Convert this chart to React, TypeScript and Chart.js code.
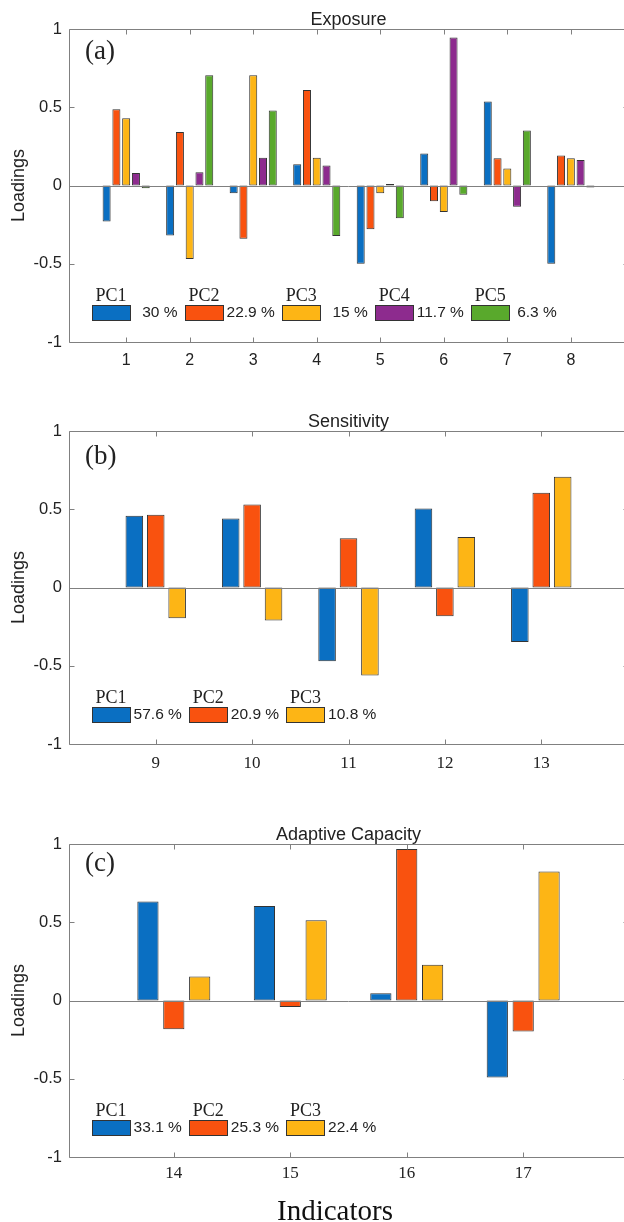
import React, { useEffect, useRef } from 'react';
import { Chart, registerables } from 'chart.js';

Chart.register(...registerables);

// ---------------- data ----------------
const seriesNames = ['PC1', 'PC2', 'PC3', 'PC4', 'PC5'];

const exposureIndicators = [1, 2, 3, 4, 5, 6, 7, 8];
const exposurePC1 = [-0.23, -0.32, -0.05, 0.135, -0.5, 0.205, 0.537, -0.5];
const exposurePC2 = [0.488, 0.342, -0.34, 0.611, -0.28, -0.1, 0.174, 0.191];
const exposurePC3 = [0.43, -0.47, 0.705, 0.178, -0.05, -0.17, 0.108, 0.174];
const exposurePC4 = [0.08, 0.084, 0.178, 0.127, 0.01, 0.946, -0.135, 0.163];
const exposurePC5 = [-0.018, 0.705, 0.479, -0.323, -0.21, -0.059, 0.351, -0.012];
const exposureVariance = [30, 22.9, 15, 11.7, 6.3];

const sensitivityIndicators = [9, 10, 11, 12, 13];
const sensitivityPC1 = [0.458, 0.441, -0.471, 0.505, -0.348];
const sensitivityPC2 = [0.465, 0.531, 0.315, -0.184, 0.605];
const sensitivityPC3 = [-0.196, -0.211, -0.563, 0.322, 0.708];
const sensitivityVariance = [57.6, 20.9, 10.8];

const adaptiveIndicators = [14, 15, 16, 17];
const adaptivePC1 = [0.633, 0.604, 0.047, -0.492];
const adaptivePC2 = [-0.183, -0.042, 0.968, -0.198];
const adaptivePC3 = [0.153, 0.512, 0.228, 0.825];
const adaptiveVariance = [33.1, 25.3, 22.4];

const yTickValues = [-1, -0.5, 0, 0.5, 1];

// ---------------- style ----------------
const COLORS = ['#0a6fc2', '#f9520f', '#fdb515', '#8d2b8e', '#59a92c'];
const SANS = "'Liberation Sans', Arial, sans-serif";
const SERIF = "'Liberation Serif', 'Times New Roman', serif";
const AXIS = '#808080';
const TEXT = '#222222';
const CANVAS_W = 640;

type PanelCfg = {
  top: number;
  height: number;
  padTop: number;
  xHeight: number;
  cats: number[];
  series: number[][];
  variance: number[];
  title: string;
  letter: string;
  letterBaseline: number;
  xFont: string;
  xFontSize: number;
  xPad: number;
  indicators: boolean;
};

const panels: PanelCfg[] = [
  {
    top: 0, height: 400, padTop: 29, xHeight: 58,
    cats: exposureIndicators,
    series: [exposurePC1, exposurePC2, exposurePC3, exposurePC4, exposurePC5],
    variance: exposureVariance,
    title: 'Exposure', letter: '(a)', letterBaseline: 29.5,
    xFont: SANS, xFontSize: 16, xPad: 9, indicators: false,
  },
  {
    top: 400, height: 412, padTop: 31, xHeight: 68,
    cats: sensitivityIndicators,
    series: [sensitivityPC1, sensitivityPC2, sensitivityPC3],
    variance: sensitivityVariance,
    title: 'Sensitivity', letter: '(b)', letterBaseline: 32.7,
    xFont: SERIF, xFontSize: 17, xPad: 9, indicators: false,
  },
  {
    top: 812, height: 410, padTop: 32, xHeight: 65,
    cats: adaptiveIndicators,
    series: [adaptivePC1, adaptivePC2, adaptivePC3],
    variance: adaptiveVariance,
    title: 'Adaptive Capacity', letter: '(c)', letterBaseline: 27.4,
    xFont: SERIF, xFontSize: 17, xPad: 6, indicators: true,
  },
];

function fmt(v: number) {
  return String(Number(v.toFixed(3)));
}

function PanelChart({ cfg }: { cfg: PanelCfg }) {
  const ref = useRef<HTMLCanvasElement | null>(null);

  useEffect(() => {
    if (!ref.current) return;
    const n = cfg.series.length;
    const first = cfg.cats[0];
    const last = cfg.cats[cfg.cats.length - 1];

    const decor = {
      id: 'matlabDecor',
      afterDraw(chart: any) {
        const ctx = chart.ctx as CanvasRenderingContext2D;
        const area = chart.chartArea;
        const xs = chart.scales.x;
        const ys = chart.scales.y;
        ctx.save();

        // zero baseline
        const y0 = Math.round(ys.getPixelForValue(0)) + 0.5;
        ctx.strokeStyle = AXIS;
        ctx.lineWidth = 1;
        ctx.beginPath();
        ctx.moveTo(area.left, y0);
        ctx.lineTo(area.right, y0);
        ctx.stroke();

        // box
        const L = Math.round(area.left) + 0.5;
        const R = Math.round(area.right) + 0.5;
        const T = Math.round(area.top) + 0.5;
        const B = Math.round(area.bottom) + 0.5;
        ctx.strokeStyle = AXIS;
        ctx.beginPath();
        ctx.rect(L, T, R - L, B - T);
        ctx.stroke();

        // inward tick marks
        const tl = 5;
        ctx.beginPath();
        cfg.cats.forEach((c) => {
          const px = Math.round(xs.getPixelForValue(c)) + 0.5;
          ctx.moveTo(px, B);
          ctx.lineTo(px, B - tl);
          ctx.moveTo(px, T);
          ctx.lineTo(px, T + tl);
        });
        yTickValues.forEach((v) => {
          const py = Math.round(ys.getPixelForValue(v)) + 0.5;
          ctx.moveTo(L, py);
          ctx.lineTo(L + tl, py);
          ctx.moveTo(R, py);
          ctx.lineTo(R - tl, py);
        });
        ctx.stroke();

        // title
        ctx.fillStyle = TEXT;
        ctx.font = `18px ${SANS}`;
        ctx.textAlign = 'center';
        ctx.textBaseline = 'alphabetic';
        ctx.fillText(cfg.title, (area.left + area.right) / 2, area.top - 4);

        // panel letter
        ctx.font = `27px ${SERIF}`;
        ctx.textAlign = 'left';
        ctx.fillText(cfg.letter, area.left + 16, area.top + cfg.letterBaseline);

        // y title
        ctx.save();
        ctx.translate(19, (area.top + area.bottom) / 2);
        ctx.rotate(-Math.PI / 2);
        ctx.font = `18px ${SANS}`;
        ctx.textAlign = 'center';
        ctx.textBaseline = 'middle';
        ctx.fillText('Loadings', 0, 0);
        ctx.restore();

        // legend
        const swTop = area.top + 275.5;
        const swH = 16;
        const swW = 39;
        let x = area.left + 22.6;
        for (let i = 0; i < n; i++) {
          ctx.fillStyle = COLORS[i];
          ctx.fillRect(Math.round(x), Math.round(swTop), swW, swH);
          ctx.strokeStyle = '#333333';
          ctx.lineWidth = 1;
          ctx.strokeRect(Math.round(x) + 0.5, Math.round(swTop) + 0.5, swW - 1, swH - 1);
          ctx.fillStyle = TEXT;
          ctx.font = `18px ${SERIF}`;
          ctx.textAlign = 'center';
          ctx.textBaseline = 'alphabetic';
          ctx.fillText(seriesNames[i], x + swW / 2, swTop - 4);
          const label = String(cfg.variance[i]).padStart(4, ' ') + ' %';
          ctx.font = `15.5px ${SANS}`;
          ctx.textAlign = 'left';
          ctx.textBaseline = 'middle';
          const tx = x + swW + 3;
          ctx.fillText(label, tx, swTop + swH / 2 + 0.5);
          x = tx + ctx.measureText(label).width + 7;
        }

        if (cfg.indicators) {
          ctx.fillStyle = '#111111';
          ctx.font = `29px ${SERIF}`;
          ctx.textAlign = 'center';
          ctx.textBaseline = 'alphabetic';
          ctx.fillText('Indicators', 335, chart.height - 2);
        }
        ctx.restore();
      },
    };

    const chart = new Chart(ref.current, {
      type: 'bar',
      data: {
        datasets: cfg.series.map((vals, i) => ({
          label: seriesNames[i],
          data: cfg.cats.map((c, k) => ({ x: c, y: vals[k] })),
          backgroundColor: COLORS[i],
          borderColor: '#333333',
          borderWidth: 1,
          borderSkipped: false,
          categoryPercentage: n / (n + 1.5),
          barPercentage: 0.82,
        })),
      },
      options: {
        animation: false,
        responsive: false,
        maintainAspectRatio: false,
        devicePixelRatio: 1,
        layout: { padding: { top: cfg.padTop, right: CANVAS_W - 628, left: 0, bottom: 0 } },
        plugins: { legend: { display: false }, tooltip: { enabled: false }, title: { display: false } },
        scales: {
          x: {
            type: 'linear',
            min: first - 0.9,
            max: last + 0.9,
            offset: false,
            grid: { display: false, drawTicks: false },
            border: { display: false },
            ticks: {
              autoSkip: false,
              maxRotation: 0,
              padding: cfg.xPad,
              color: TEXT,
              font: { family: cfg.xFont, size: cfg.xFontSize },
              callback: (v: any) => fmt(Number(v)),
            },
            afterBuildTicks: (axis: any) => {
              axis.ticks = cfg.cats.map((c) => ({ value: c }));
            },
            afterFit: (axis: any) => {
              axis.height = cfg.xHeight;
            },
          },
          y: {
            type: 'linear',
            min: -1,
            max: 1,
            grid: { display: false, drawTicks: false },
            border: { display: false },
            ticks: {
              padding: 7,
              color: TEXT,
              font: { family: SANS, size: 16.5 },
              callback: (v: any) => fmt(Number(v)),
            },
            afterBuildTicks: (axis: any) => {
              axis.ticks = yTickValues.map((v) => ({ value: v }));
            },
            afterFit: (axis: any) => {
              axis.width = 69;
            },
          },
        },
      },
      plugins: [decor],
    } as any);

    return () => chart.destroy();
  }, [cfg]);

  return (
    <canvas
      ref={ref}
      width={CANVAS_W}
      height={cfg.height}
      style={{ position: 'absolute', left: 0, top: cfg.top, display: 'block' }}
    />
  );
}

export default function App() {
  return (
    <div
      style={{
        position: 'absolute',
        left: 0,
        top: 0,
        width: 624,
        height: 1222,
        overflow: 'hidden',
        background: '#ffffff',
      }}
    >
      {panels.map((p) => (
        <PanelChart key={p.letter} cfg={p} />
      ))}
    </div>
  );
}
